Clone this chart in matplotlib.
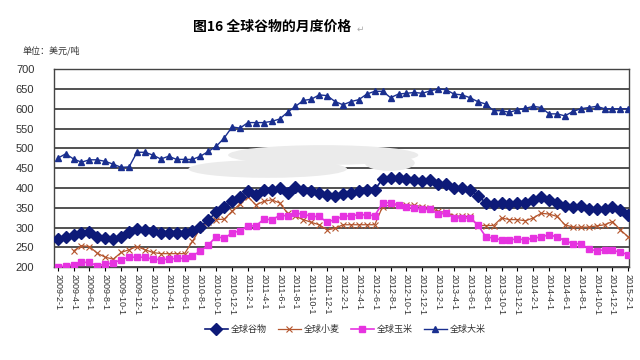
import numpy as np
import matplotlib
matplotlib.use('Agg')
import matplotlib.pyplot as plt
from matplotlib.patches import Ellipse

plt.rcParams['font.family'] = ['Noto Sans CJK SC', 'DejaVu Sans']
plt.rcParams['axes.unicode_minus'] = False

# 月份: 2009-2 ... 2015-2
months = []
for k in range(73):
    y = 2009 + (k + 1) // 12
    m = (k + 1) % 12 + 1
    months.append('%d-%d-1' % (y, m))

grain = [271, 276, 281, 286, 288, 276, 273, 271, 277, 288, 297, 294, 290, 286, 286, 286, 286, 290,
         302, 320, 338, 353, 366, 378, 391, 383, 395, 395, 399, 388, 402, 395, 391, 388, 383, 380,
         385, 387, 391, 394, 395, 423, 425, 425,
         422, 420, 418, 419, 410, 410, 399, 401, 395, 380, 363, 360, 363, 360, 363, 363, 370, 377,
         370, 363, 355, 353, 355, 347, 347, 347, 353, 345, 332]
wheat = [np.nan, np.nan, 241, 254, 252, 235, 225, 220, 237, 244, 252, 244, 237, 234, 234, 234, 234, 265,
         298, 315, 320, 321, 341, 360, 378, 357, 366, 370, 362, 336, 328, 320, 313, 307, 294, 298,
         307, 307, 307, 307, 307, 353, 357, 357,
         357, 356, 353, 349, 341, 338, 330, 328, 328, 305, 305, 305, 324, 320, 320, 317, 324, 336,
         334, 328, 307, 301, 301, 301, 304, 307, 315, 294, 276]
corn = [200, 203, 206, 212, 212, 203, 208, 210, 219, 225, 225, 225, 220, 219, 220, 222, 222, 229,
        240, 256, 277, 273, 286, 292, 304, 304, 321, 320, 330, 330, 336, 334, 328, 328, 313, 321,
        328, 330, 332, 332, 330, 362, 363, 357,
        351, 349, 346, 346, 334, 336, 325, 324, 324, 307, 277, 273, 269, 269, 271, 269, 273, 276,
        282, 276, 267, 259, 259, 246, 241, 244, 242, 238, 231]
rice = [475, 486, 473, 465, 471, 471, 467, 460, 452, 453, 490, 490, 483, 473, 480, 472, 472, 472,
        480, 492, 505, 526, 554, 551, 565, 565, 565, 568, 574, 591, 606, 621, 624, 635, 633, 618,
        610, 618, 623, 637, 644, 644, 628, 637,
        639, 641, 639, 645, 650, 648, 637, 635, 628, 618, 612, 595, 595, 591, 597, 601, 606, 603,
        587, 587, 582, 593, 600, 603, 606, 600, 600, 600, 600]

x = np.arange(len(months))

fig = plt.figure(figsize=(6.4, 3.6), dpi=100)
ax = fig.add_axes([0.084, 0.258, 0.899, 0.55])

ax.plot(x, grain, '-D', color='#0d1a78', ms=6.5, lw=1.2, label='全球谷物', zorder=4)
ax.plot(x, wheat, '-x', color='#b5562e', ms=4, mew=0.8, lw=0.9, label='全球小麦', zorder=3)
ax.plot(x, corn, '-s', color='#e633e0', ms=4.5, lw=1.2, label='全球玉米', zorder=3)
ax.plot(x, rice, '-^', color='#1a2f8f', ms=5, lw=1.0, label='全球大米', zorder=3)

# 图上的灰色涂抹
for cx, cy, w, h in [(33.5, 483, 24, 50), (26.5, 448, 20, 45), (41.9, 463, 6.3, 40)]:
    ax.add_patch(Ellipse((cx, cy), w, h, color='#ebebeb', zorder=2.5, lw=0))

ax.set_xlim(-0.5, 72.1)
ax.set_ylim(200, 700)
ax.set_yticks(np.arange(200, 701, 50))
ax.grid(axis='y', color='#222222', lw=1.1, zorder=1)
ax.set_axisbelow(True)
for s in ax.spines.values():
    s.set_color('#444444')
    s.set_linewidth(1.0)

ax.set_xticks(x[::2])
ax.set_xticklabels(months[::2], rotation=270, fontsize=6.5, color='#333333',
                   family=['Liberation Sans', 'DejaVu Sans'])
ax.tick_params(axis='x', length=3, width=0.8, pad=2)
ax.tick_params(axis='y', length=0, labelsize=8, labelcolor='#333333', pad=14)
for t in ax.get_yticklabels():
    t.set_family(['Liberation Sans', 'DejaVu Sans'])

fig.text(0.425, 0.925, '图16 全球谷物的月度价格', fontsize=10, fontweight='bold', ha='center', va='center')
fig.text(0.557, 0.918, '↵', fontsize=6.5, color='#aaaaaa', ha='left', va='center',
         family=['DejaVu Sans'])
fig.text(0.035, 0.858, '单位：美元/吨', fontsize=6.5, color='#333333', ha='left', va='center')

leg = fig.legend(loc='center', bbox_to_anchor=(0.54, 0.085), ncol=4, frameon=False,
                 fontsize=6.5, handlelength=2.5, columnspacing=1.2, handletextpad=0.4)
for t in leg.get_texts():
    t.set_color('#333333')

plt.savefig('out.png', dpi=100)
